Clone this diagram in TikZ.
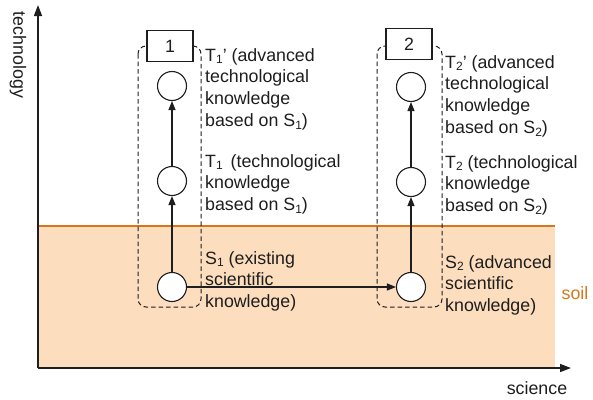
\documentclass[tikz,border=0pt]{standalone}
\usepackage{fontspec}
\setmainfont{Liberation Sans}
\usetikzlibrary{arrows.meta}
\definecolor{soilfill}{RGB}{252,221,190}
\definecolor{soilline}{RGB}{217,118,28}
\definecolor{ink}{RGB}{30,30,30}
\newcommand{\lowsub}[1]{\raisebox{-0.3ex}{\fontsize{12}{12}\selectfont #1}}
\tikzset{
  every node/.style={font=\fontsize{17.8}{21.7}\selectfont, text=ink},
  knot/.style={circle, draw=ink, fill=white, line width=1.1pt, minimum size=29pt, inner sep=0pt},
  tag/.style={draw=ink, fill=white, line width=1.1pt, minimum width=46pt, minimum height=31pt, inner sep=0pt},
  note/.style={anchor=north west, align=left, inner sep=0pt},
  group/.style={draw=ink, dash pattern=on 4.5pt off 3pt, rounded corners=8pt, line width=1pt},
  flow/.style={draw=ink, -{Triangle[length=9pt,width=7pt]}, line width=1.2pt},
  axis/.style={draw=ink, -{Triangle[length=11pt,width=8pt]}, line width=1.4pt}
}
\begin{document}
\begin{tikzpicture}[x=1pt,y=-1pt]
\useasboundingbox (0,0) rectangle (593,399);

% soil layer
\fill[soilfill] (38,226) rectangle (555,368);
\draw[soilline, line width=1.3pt] (38,226) -- (555,226);
\node[text=soilline] (soil) at (575,293) {soil};

% axes
\coordinate (origin) at (38,368);
\coordinate (ytip) at (38,5);
\coordinate (xtip) at (571,368);
\draw[axis] (origin) -- (ytip);
\draw[axis] (origin) -- (xtip);
\node[rotate=-90] (ylab) at (18,55) {technology};
\node (xlab) at (537,388) {science};

% dashed groups
\draw[group] (138,46) rectangle (201,307);
\draw[group] (377,46) rectangle (442,307);

% group tags
\node[tag] (tag1) at (170,46) {1};
\node[tag] (tag2) at (409,44) {2};

% knowledge nodes
\node[knot] (s1) at (172,287) {};
\node[knot] (t1) at (172,181) {};
\node[knot] (t1p) at (172,86) {};
\node[knot] (s2) at (411,287) {};
\node[knot] (t2) at (411,182) {};
\node[knot] (t2p) at (411,87) {};

% transitions
\draw[flow] (s1) -- (t1);
\draw[flow] (t1) -- (t1p);
\draw[flow] (s2) -- (t2);
\draw[flow] (t2) -- (t2p);
\draw[flow] (s1) -- (s2);

% descriptions
\node[note] (d1p) at (205,48) {T\lowsub{1}’ (advanced\\technological\\knowledge\\based on S\lowsub{1})};
\node[note] (d1) at (205,154) {T\lowsub{1}\ \,(technological\\knowledge\\based on S\lowsub{1})};
\node[note] (ds1) at (205,251) {S\lowsub{1} (existing\\scientific\\knowledge)};
\node[note] (d2p) at (445,55) {T\lowsub{2}’ (advanced\\technological\\knowledge\\based on S\lowsub{2})};
\node[note] (d2) at (445,155) {T\lowsub{2} (technological\\knowledge\\based on S\lowsub{2})};
\node[note] (ds2) at (445,255) {S\lowsub{2} (advanced\\scientific\\knowledge)};
\end{tikzpicture}
\end{document}
